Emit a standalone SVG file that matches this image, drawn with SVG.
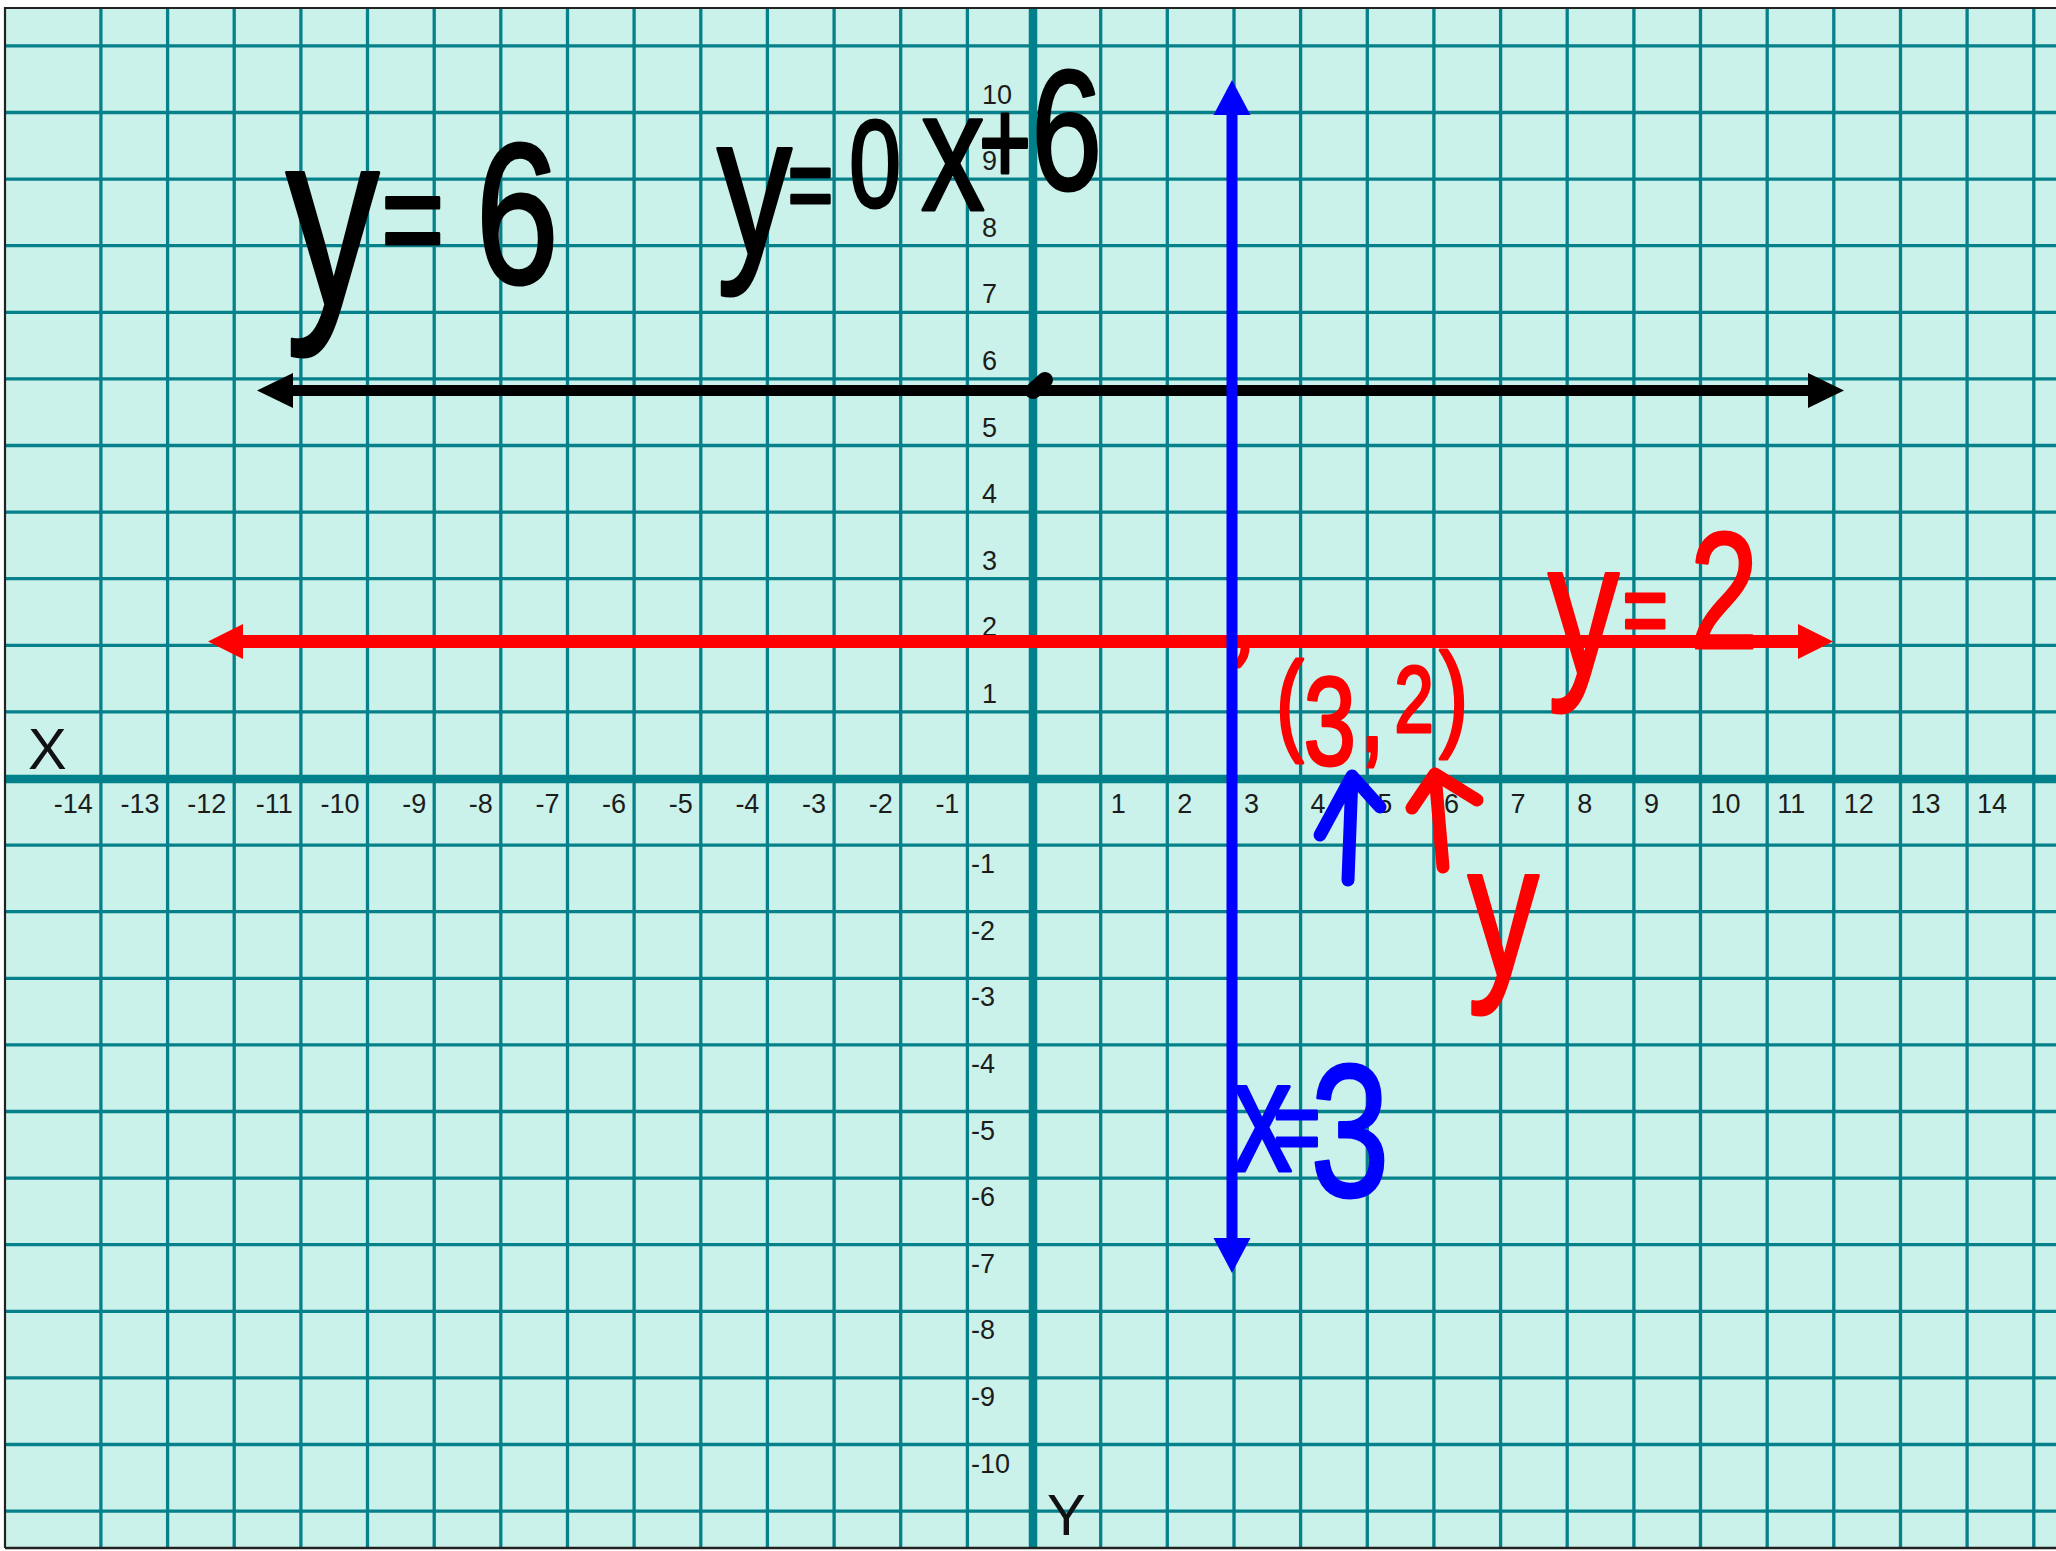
<svg xmlns="http://www.w3.org/2000/svg" width="2056" height="1551" viewBox="0 0 2056 1551">
<style>
.grid{stroke:#06808a;stroke-width:3.3;fill:none}
.axis{stroke:#00808a;stroke-width:8.5;fill:none}
.tick{font-family:"Liberation Sans",Arial,sans-serif;font-size:27px;fill:#1c1c1c}
.tn{text-anchor:end}
.big{font-family:"Liberation Sans",Arial,sans-serif;font-size:58px;fill:#111}
.hw{font-family:"Liberation Sans",Arial,sans-serif;stroke-width:3;stroke-linejoin:round}
.hwk{fill:#000;stroke:#000}
.hwr{fill:#ff0000;stroke:#ff0000}
.hwb{fill:#0000ff;stroke:#0000ff}
.pen{fill:none;stroke-linecap:round;stroke-linejoin:round}
</style>
<defs>
<marker id="ahk" markerUnits="userSpaceOnUse" markerWidth="37" markerHeight="36" refX="0" refY="17.5" orient="auto-start-reverse" overflow="visible">
<path d="M0,0 L36,17.5 L0,35 Z" fill="#000"/>
</marker>
<marker id="ahr" markerUnits="userSpaceOnUse" markerWidth="37" markerHeight="36" refX="0" refY="17.5" orient="auto-start-reverse" overflow="visible">
<path d="M0,0 L35,17.5 L0,35 Z" fill="#ff0000"/>
</marker>
<marker id="ahb" markerUnits="userSpaceOnUse" markerWidth="37" markerHeight="38" refX="0" refY="18.5" orient="auto-start-reverse" overflow="visible">
<path d="M0,0 L35,18.5 L0,37 Z" fill="#0000ff"/>
</marker>
</defs>
<rect x="0" y="0" width="2056" height="1551" fill="#ffffff"/>
<g id="paper">
<rect x="5" y="8" width="2051" height="1540" fill="#cbf2ea"/>
<path class="grid" d="M100.9,8V1548M167.6,8V1548M234.2,8V1548M300.9,8V1548M367.5,8V1548M434.2,8V1548M500.8,8V1548M567.5,8V1548M634.1,8V1548M700.8,8V1548M767.4,8V1548M834.1,8V1548M900.7,8V1548M967.4,8V1548M1100.7,8V1548M1167.3,8V1548M1234,8V1548M1300.6,8V1548M1367.3,8V1548M1433.9,8V1548M1500.6,8V1548M1567.2,8V1548M1633.9,8V1548M1700.5,8V1548M1767.2,8V1548M1833.8,8V1548M1900.5,8V1548M1967.1,8V1548M2033.8,8V1548"/>
<path class="grid" d="M5,45.9H2056M5,112.5H2056M5,179.1H2056M5,245.7H2056M5,312.3H2056M5,378.9H2056M5,445.5H2056M5,512.1H2056M5,578.7H2056M5,645.3H2056M5,711.9H2056M5,845.1H2056M5,911.7H2056M5,978.3H2056M5,1044.9H2056M5,1111.5H2056M5,1178.1H2056M5,1244.7H2056M5,1311.3H2056M5,1377.9H2056M5,1444.5H2056M5,1511.1H2056"/>
<path class="axis" d="M5,779H2056M1033,8V1548"/>
<path d="M5,1548V8H2056" fill="none" stroke="#222" stroke-width="2.2"/>
<path d="M5,1548H2056" fill="none" stroke="#222" stroke-width="2.5"/>
</g>
<g id="x-ticks">
<text class="tick tn" x="92.9" y="813">-14</text>
<text class="tick tn" x="159.6" y="813">-13</text>
<text class="tick tn" x="226.2" y="813">-12</text>
<text class="tick tn" x="292.9" y="813">-11</text>
<text class="tick tn" x="359.5" y="813">-10</text>
<text class="tick tn" x="426.2" y="813">-9</text>
<text class="tick tn" x="492.8" y="813">-8</text>
<text class="tick tn" x="559.5" y="813">-7</text>
<text class="tick tn" x="626.1" y="813">-6</text>
<text class="tick tn" x="692.8" y="813">-5</text>
<text class="tick tn" x="759.4" y="813">-4</text>
<text class="tick tn" x="826.1" y="813">-3</text>
<text class="tick tn" x="892.7" y="813">-2</text>
<text class="tick tn" x="959.4" y="813">-1</text>
<text class="tick" x="1110.7" y="813">1</text>
<text class="tick" x="1177.3" y="813">2</text>
<text class="tick" x="1244" y="813">3</text>
<text class="tick" x="1310.6" y="813">4</text>
<text class="tick" x="1377.3" y="813">5</text>
<text class="tick" x="1443.9" y="813">6</text>
<text class="tick" x="1510.6" y="813">7</text>
<text class="tick" x="1577.2" y="813">8</text>
<text class="tick" x="1643.9" y="813">9</text>
<text class="tick" x="1710.5" y="813">10</text>
<text class="tick" x="1777.2" y="813">11</text>
<text class="tick" x="1843.8" y="813">12</text>
<text class="tick" x="1910.5" y="813">13</text>
<text class="tick" x="1977.1" y="813">14</text>
</g>
<g id="y-ticks">
<text class="tick" x="982" y="103.5">10</text>
<text class="tick" x="982" y="170.1">9</text>
<text class="tick" x="982" y="236.7">8</text>
<text class="tick" x="982" y="303.3">7</text>
<text class="tick" x="982" y="369.9">6</text>
<text class="tick" x="982" y="436.5">5</text>
<text class="tick" x="982" y="503.1">4</text>
<text class="tick" x="982" y="569.7">3</text>
<text class="tick" x="982" y="636.3">2</text>
<text class="tick" x="982" y="702.9">1</text>
<text class="tick" x="971" y="873.1">-1</text>
<text class="tick" x="971" y="939.7">-2</text>
<text class="tick" x="971" y="1006.3">-3</text>
<text class="tick" x="971" y="1072.9">-4</text>
<text class="tick" x="971" y="1139.5">-5</text>
<text class="tick" x="971" y="1206.1">-6</text>
<text class="tick" x="971" y="1272.7">-7</text>
<text class="tick" x="971" y="1339.3">-8</text>
<text class="tick" x="971" y="1405.9">-9</text>
<text class="tick" x="971" y="1472.5">-10</text>
</g>
<g id="axis-names">
<text class="big" x="28" y="769">X</text>
<text class="big" x="1047" y="1535">Y</text>
</g>
<g id="connectors">
<path id="line-y6" d="M293,390.5H1808" stroke="#000" stroke-width="11" fill="none" marker-start="url(#ahk)" marker-end="url(#ahk)"/>
<path id="dot" class="pen" d="M1033,391L1045,380" stroke="#000" stroke-width="16"/>
<path id="line-y2" d="M243,641.5H1798" stroke="#ff0000" stroke-width="13" fill="none" marker-start="url(#ahr)" marker-end="url(#ahr)"/>
<path class="pen" d="M1245,645Q1246,656 1238,664" stroke="#ff0000" stroke-width="9"/>
<path id="line-x3" d="M1232,115V1238" stroke="#0000ff" stroke-width="11" fill="none" marker-start="url(#ahb)" marker-end="url(#ahb)"/>
<path id="arrow-blue" class="pen" d="M1348,880L1352,776M1320,835L1352,776L1380,807" stroke="#0000ff" stroke-width="13"/>
<path id="arrow-red" class="pen" d="M1443,867L1435,774M1412,808L1435,774L1477,800" stroke="#ff0000" stroke-width="13"/>
</g>
<g id="label-y6">
<text class="hw hwk" transform="scale(0.75,1)"><tspan x="381" y="305" font-size="250">y</tspan><tspan x="508" y="268" font-size="145">=</tspan><tspan x="634" y="283" font-size="200">6</tspan></text>
</g>
<g id="label-y0x6">
<text class="hw hwk" transform="scale(0.75,1)"><tspan x="956" y="254" font-size="200">y</tspan><tspan x="1050" y="221" font-size="105">=</tspan><tspan x="1132" y="207" font-size="125">0</tspan><tspan x="1228" y="210" font-size="170">x</tspan><tspan x="1305" y="184" font-size="120">+</tspan><tspan x="1375" y="189" font-size="170">6</tspan></text>
</g>
<g id="label-y2">
<text class="hw hwr" transform="scale(0.75,1)"><tspan x="2064" y="674" font-size="190">y</tspan><tspan x="2163" y="646" font-size="105">=</tspan><tspan x="2253" y="648" font-size="165">2</tspan></text>
</g>
<g id="label-point">
<text class="hw hwr" transform="scale(0.75,1)"><tspan x="1701" y="740" font-size="112">(</tspan><tspan x="1738" y="765" font-size="126">3</tspan><tspan x="1812" y="751" font-size="126">,</tspan><tspan x="1859" y="732" font-size="95">2</tspan><tspan x="1919" y="735" font-size="117">)</tspan></text>
</g>
<g id="label-y">
<text class="hw hwr" transform="scale(0.75,1)" x="1957" y="976" font-size="190">y</text>
</g>
<g id="label-x3">
<text class="hw hwb" transform="scale(0.75,1)"><tspan x="1643" y="1171" font-size="160">x</tspan><tspan x="1697" y="1164.5" font-size="110">=</tspan><tspan x="1747" y="1196" font-size="190">3</tspan></text>
</g>
</svg>
